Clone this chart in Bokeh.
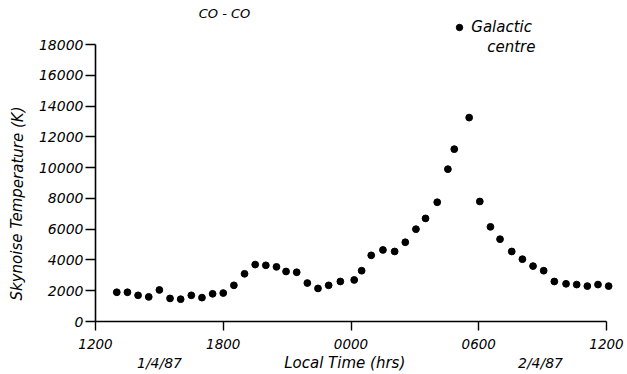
from bokeh.plotting import figure
from bokeh.models import Range1d, FixedTicker, Label, Legend, LegendItem
from bokeh.embed import file_html
from bokeh.resources import INLINE

# ---- data ----
# local time in hours, counted from midnight of 1/4/87 (so 36 = 1200 on 2/4/87)
time_hrs = [13.0, 13.5, 14.0, 14.5, 15.0, 15.5, 16.0, 16.5, 17.0, 17.5, 18.0,
            18.5, 19.0, 19.5, 20.0, 20.5, 20.95, 21.45, 21.95, 22.45, 22.95,
            23.5, 24.15, 24.5, 24.95, 25.5, 26.05, 26.55, 27.05, 27.5, 28.05,
            28.55, 28.85, 29.55, 30.05, 30.55, 31.0, 31.55, 32.05, 32.55,
            33.05, 33.55, 34.1, 34.6, 35.1, 35.6, 36.1]
skynoise_K = [1900, 1900, 1700, 1600, 2050, 1500, 1450, 1700, 1550, 1800, 1850,
              2350, 3100, 3700, 3650, 3550, 3250, 3200, 2500, 2150, 2350,
              2600, 2700, 3300, 4300, 4650, 4550, 5150, 6000, 6700, 7750,
              9900, 11200, 13250, 7800, 6150, 5350, 4550, 4050, 3600,
              3300, 2600, 2450, 2400, 2300, 2400, 2300]

x_ticks = [12, 18, 24, 30, 36]
x_tick_labels = ["1200", "1800", "0000", "0600", "1200"]
y_ticks = [0, 2000, 4000, 6000, 8000, 10000, 12000, 14000, 16000, 18000]
y_tick_labels = [str(v) for v in y_ticks]

title_text = "CO - CO"
legend_text = ["Galactic", "centre"]
x_title = "Local  Time  (hrs)"
y_title = "Skynoise Temperature (K)"
date_labels = ["1/4/87", "2/4/87"]

FONT = "DejaVu Sans"
W, H = 627, 374
# pixel positions of the axes in the reference
AX_L, AX_R, AX_T, AX_B = 95, 606, 44, 321
XMIN, XMAX = 12, 36
YMIN, YMAX = 0, 18000
sx = (AX_R - AX_L) / (XMAX - XMIN)
sy = (AX_B - AX_T) / (YMAX - YMIN)

def px_x(px):
    return XMIN + (px - AX_L) / sx

def px_y(py):
    return YMIN + (AX_B - py) / sy

# the frame covers the whole canvas; axes are pinned at fixed data locations
p = figure(width=W, height=H, output_backend="svg", toolbar_location=None,
           x_range=Range1d(px_x(0), px_x(W)), y_range=Range1d(px_y(H), px_y(0)),
           min_border=0, min_border_left=0, min_border_right=0,
           min_border_top=0, min_border_bottom=0)
p.title.visible = False
p.outline_line_color = None
p.grid.visible = False
p.background_fill_color = "white"
p.border_fill_color = "white"

r = p.scatter(time_hrs, skynoise_K, size=6.8, marker="circle",
              fill_color="black", line_color="black")

# axes
xa = p.xaxis[0]
xa.ticker = FixedTicker(ticks=x_ticks)
xa.major_label_overrides = dict(zip(x_ticks, x_tick_labels))
xa.bounds = (XMIN, XMAX)
xa.fixed_location = YMIN
ya = p.yaxis[0]
ya.ticker = FixedTicker(ticks=y_ticks)
ya.major_label_overrides = dict(zip(y_ticks, y_tick_labels))
ya.bounds = (YMIN, YMAX)
ya.fixed_location = XMIN
for ax in (xa, ya):
    ax.axis_line_color = "black"
    ax.axis_line_width = 1.6
    ax.major_tick_line_color = "black"
    ax.major_tick_line_width = 1.4
    ax.major_tick_in = 0
    ax.minor_tick_line_color = None
    ax.major_label_text_font = FONT
    ax.major_label_text_font_style = "italic"
    ax.major_label_text_color = "black"
xa.major_tick_out = 9
xa.major_label_standoff = 8
xa.major_label_text_font_size = "13.5px"
ya.major_tick_out = 10
ya.major_label_standoff = 2
ya.major_label_text_font_size = "14px"

def add_label(text, px, py, size, align="center", angle=0):
    p.add_layout(Label(x=px_x(px), y=px_y(py), text=text, text_font=FONT,
                       text_font_style="italic", text_font_size=size,
                       text_align=align, text_baseline="middle",
                       text_color="black", angle=angle))

add_label(title_text, 224, 13, "13px")
add_label(x_title, 349, 362, "15px")
add_label(date_labels[0], 159, 362, "14px")
add_label(date_labels[1], 540, 362, "14px")
add_label(y_title, 17, 203, "15px", angle=1.5707963)
add_label(legend_text[1], 535, 46.5, "15px", align="right")

# legend: dot + "Galactic"  (location = bottom-left corner, px from frame bottom-left)
gw, gh = 16, 18
leg_left = 459.3 - gw / 2
leg_bottom = 27.0 + gh / 2
legend = Legend(items=[LegendItem(label=legend_text[0], renderers=[r])],
                location=(leg_left, H - leg_bottom),
                glyph_width=gw, glyph_height=gh, label_height=gh,
                label_standoff=4, padding=0, margin=0, spacing=0,
                border_line_color=None, background_fill_alpha=0,
                label_text_font=FONT, label_text_font_style="italic",
                label_text_font_size="15px", label_text_color="black")
p.add_layout(legend, "center")

open("out.html", "w").write(file_html(p, INLINE))
